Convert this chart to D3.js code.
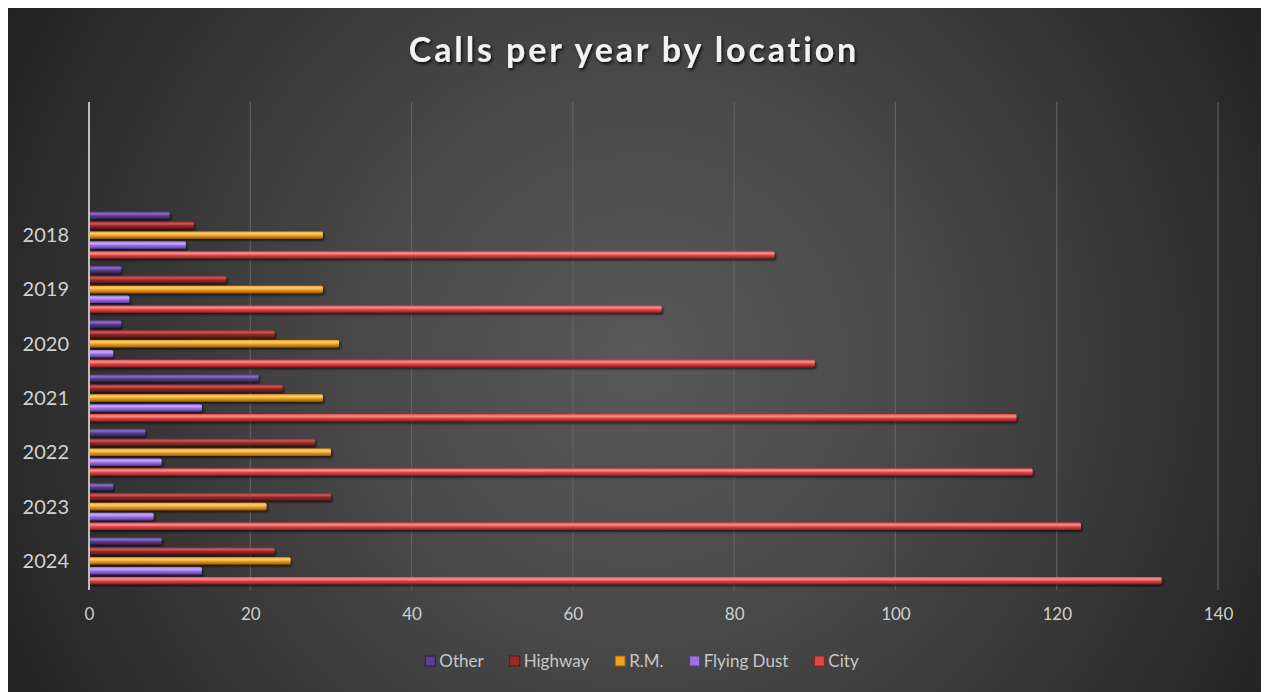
<!DOCTYPE html>
<html>
<head>
<meta charset="utf-8">
<script src="https://cdn.jsdelivr.net/npm/d3@7"></script>
<style>
  body { margin: 0; background: #fff; }
  svg { display: block; }
</style>
</head>
<body>
<div id="chart"></div>
<script>
// data
const years = ["2018", "2019", "2020", "2021", "2022", "2023", "2024"];
const seriesNames = ["Other", "Highway", "R.M.", "Flying Dust", "City"];
const other      = [10, 4, 4, 21, 7, 3, 9];
const highway    = [13, 17, 23, 24, 28, 30, 23];
const rm         = [29, 29, 31, 29, 30, 22, 25];
const flyingDust = [12, 5, 3, 14, 9, 8, 14];
const city       = [85, 71, 90, 115, 117, 123, 133];
const xTicks = [0, 20, 40, 60, 80, 100, 120, 140];

// colours: [dark edge, main, highlight]
const palette = {
    "Other":       ["#2e1f52", "#5b3f8f", "#8a70c0"],
    "Highway":     ["#5e1414", "#9a2a2a", "#c85a5a"],
    "R.M.":        ["#9a5a08", "#f0a020", "#ffd070"],
    "Flying Dust": ["#5e3a9e", "#9b72e0", "#c8aaff"],
    "City":        ["#8e1e1e", "#e04848", "#ff9090"]
};

const W = 1267, H = 692;
const font = "Lato, 'Open Sans', sans-serif";

// build rows for the grouped bars
const values = [other, highway, rm, flyingDust, city];
const rows = years.map((yr, i) => ({
    year: yr,
    bars: seriesNames.map((s, j) => ({ key: s, value: values[j][i] }))
}));

const svg = d3.select("#chart").append("svg")
    .attr("width", W).attr("height", H);

const defs = svg.append("defs");

// background radial gradient
const bg = defs.append("radialGradient")
    .attr("id", "bgGrad")
    .attr("gradientUnits", "userSpaceOnUse")
    .attr("cx", 640).attr("cy", 360).attr("r", 720);
bg.append("stop").attr("offset", "0%").attr("stop-color", "#595959");
bg.append("stop").attr("offset", "40%").attr("stop-color", "#484848");
bg.append("stop").attr("offset", "75%").attr("stop-color", "#333");
bg.append("stop").attr("offset", "100%").attr("stop-color", "#222");

// cylinder-ish gradients per series
seriesNames.forEach((s, i) => {
    const c = palette[s];
    const g = defs.append("linearGradient")
        .attr("id", "bar" + i)
        .attr("x1", 0).attr("y1", 0).attr("x2", 0).attr("y2", 1);
    g.append("stop").attr("offset", "0%").attr("stop-color", c[1]);
    g.append("stop").attr("offset", "30%").attr("stop-color", c[2]);
    g.append("stop").attr("offset", "55%").attr("stop-color", c[1]);
    g.append("stop").attr("offset", "100%").attr("stop-color", c[0]);
});

const shadow = defs.append("filter").attr("id", "shadow")
    .attr("x", "-5%").attr("y", "-50%").attr("width", "110%").attr("height", "250%");
shadow.append("feDropShadow")
    .attr("dx", 1.5).attr("dy", 2).attr("stdDeviation", 1.2)
    .attr("flood-color", "#000").attr("flood-opacity", 0.6);

const titleShadow = defs.append("filter").attr("id", "tshadow")
    .attr("x", "-10%").attr("y", "-30%").attr("width", "120%").attr("height", "160%");
titleShadow.append("feDropShadow")
    .attr("dx", 1.5).attr("dy", 2).attr("stdDeviation", 1.5)
    .attr("flood-color", "#000").attr("flood-opacity", 0.8);

// chart frame
svg.append("rect")
    .attr("x", 8).attr("y", 8).attr("width", 1253).attr("height", 684)
    .attr("fill", "url(#bgGrad)");

// scales
const x = d3.scaleLinear().domain([0, 140]).range([89, 1218]);
const y0 = d3.scaleBand().domain(years).range([208, 588])
    .paddingInner(0.1).paddingOuter(0.05);
const y1 = d3.scaleBand().domain(seriesNames).range([0, y0.bandwidth()])
    .paddingInner(0.25).paddingOuter(0.1);

const plotTop = 102, plotBottom = 590;

// gridlines
svg.append("g").selectAll("line")
    .data(xTicks.slice(1))
    .join("line")
    .attr("x1", d => x(d)).attr("x2", d => x(d))
    .attr("y1", plotTop).attr("y2", plotBottom)
    .attr("stroke", "#626262").attr("stroke-width", 1.2);

// bars
const groups = svg.append("g").selectAll("g")
    .data(rows)
    .join("g")
    .attr("transform", d => `translate(0,${y0(d.year)})`);

groups.selectAll("rect")
    .data(d => d.bars)
    .join("rect")
    .attr("x", x(0))
    .attr("y", d => y1(d.key))
    .attr("width", d => x(d.value) - x(0))
    .attr("height", y1.bandwidth())
    .attr("rx", 1.5)
    .attr("fill", d => "url(#bar" + seriesNames.indexOf(d.key) + ")")
    .attr("filter", "url(#shadow)");

// vertical axis line
svg.append("line")
    .attr("x1", x(0)).attr("x2", x(0))
    .attr("y1", plotTop).attr("y2", plotBottom)
    .attr("stroke", "#bdbdbd").attr("stroke-width", 2);

// x axis labels
const xAxis = d3.axisBottom(x).tickValues(xTicks).tickSize(0).tickPadding(0);
const xg = svg.append("g")
    .attr("transform", `translate(0,${plotBottom + 24})`)
    .call(xAxis);
xg.select(".domain").remove();
xg.selectAll("text")
    .attr("fill", "#cfcfcf")
    .style("font-family", font)
    .style("font-size", "17px")
    .attr("dy", "0.35em");

// y axis labels
const yAxis = d3.axisLeft(y0).tickSize(0).tickPadding(0);
const yg = svg.append("g")
    .attr("transform", "translate(69,0)")
    .call(yAxis);
yg.select(".domain").remove();
yg.selectAll("text")
    .attr("fill", "#d2d2d2")
    .style("font-family", font)
    .style("font-size", "20px")
    .attr("dy", "0.35em");

// title
const txt = "Calls per year by location";
const title = svg.append("text")
    .attr("x", 634).attr("y", 62)
    .attr("text-anchor", "middle")
    .attr("fill", "#f2f2f2")
    .attr("filter", "url(#tshadow)")
    .style("font-family", font)
    .style("font-weight", "700")
    .style("font-size", "34px")
    .text(txt);
const tw = title.node().getComputedTextLength();
title.style("letter-spacing", Math.max(0, (448 - tw) / (txt.length - 1)) + "px");

// legend
const legend = svg.append("g").attr("transform", "translate(0,661)");
let lx = 0;
const items = [];
seriesNames.forEach((s, i) => {
    const g = legend.append("g");
    g.append("rect")
        .attr("x", 0).attr("y", -5).attr("width", 10).attr("height", 10)
        .attr("fill", palette[s][1])
        .attr("stroke", palette[s][0]).attr("stroke-width", 1);
    const t = g.append("text")
        .attr("x", 14).attr("y", 0).attr("dy", "0.35em")
        .attr("fill", "#c8c8c8")
        .style("font-family", font)
        .style("font-size", "17px")
        .text(s);
    const w = 14 + t.node().getComputedTextLength();
    items.push({ g, x: lx });
    lx += w + 26;
});
const legendWidth = lx - 26;
const startX = 642 - legendWidth / 2;
items.forEach(it => it.g.attr("transform", `translate(${startX + it.x},0)`));
</script>
</body>
</html>
